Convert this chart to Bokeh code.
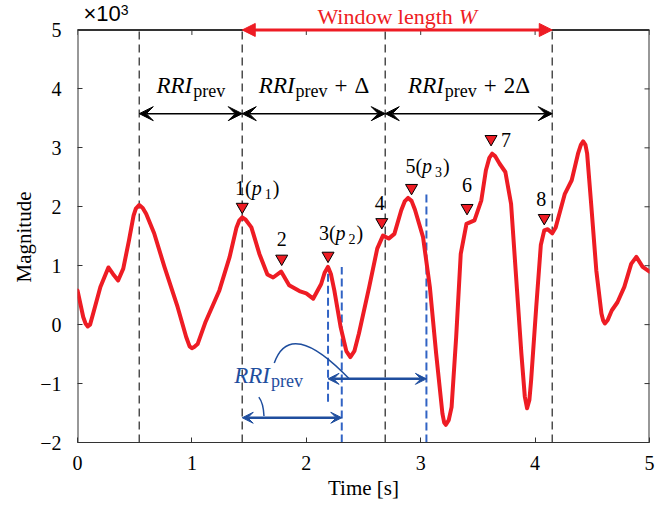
import numpy as np
from bokeh.plotting import figure
from bokeh.models import Label, Arrow, VeeHead, NormalHead, FixedTicker, Title
from bokeh.embed import file_html
from bokeh.resources import INLINE

# ---------------- data (magnitude in units of 10^3) ----------------
time_s = [0.00, 0.05, 0.07, 0.09, 0.11, 0.14, 0.20, 0.27, 0.31, 0.355, 0.40, 0.45, 0.49,
          0.51, 0.54, 0.57, 0.60, 0.67, 0.76, 0.875, 0.95, 0.98, 1.00, 1.02, 1.05, 1.12,
          1.24, 1.33, 1.39, 1.415, 1.44, 1.47, 1.52, 1.59, 1.66, 1.71, 1.78, 1.85, 1.94,
          2.00, 2.06, 2.13, 2.16, 2.19, 2.215, 2.245, 2.30, 2.35, 2.385, 2.42, 2.46, 2.55,
          2.62, 2.67, 2.72, 2.77, 2.83, 2.86, 2.89, 2.92, 2.95, 3.02, 3.08, 3.135, 3.19,
          3.205, 3.22, 3.245, 3.27, 3.31, 3.35, 3.40, 3.47, 3.53, 3.57, 3.60, 3.625, 3.65,
          3.69, 3.74, 3.79, 3.83, 3.88, 3.91, 3.93, 3.95, 3.965, 4.01, 4.05, 4.08, 4.11,
          4.15, 4.18, 4.26, 4.32, 4.375, 4.40, 4.42, 4.44, 4.455, 4.49, 4.535, 4.58, 4.595,
          4.61, 4.635, 4.67, 4.72, 4.78, 4.84, 4.885, 4.94, 5.00]
magnitude = [0.58, 0.13, 0.02, -0.03, 0.00, 0.21, 0.64, 0.97, 0.86, 0.75, 0.95, 1.43, 1.85,
             1.97, 2.03, 1.98, 1.88, 1.55, 0.98, 0.30, -0.21, -0.37, -0.40, -0.38, -0.33, 0.05,
             0.58, 1.15, 1.65, 1.77, 1.82, 1.78, 1.65, 1.20, 0.85, 0.80, 0.90, 0.67, 0.57,
             0.53, 0.44, 0.69, 0.88, 0.98, 0.86, 0.58, -0.04, -0.45, -0.55, -0.45, -0.15, 0.64,
             1.29, 1.51, 1.46, 1.54, 1.94, 2.09, 2.15, 2.10, 1.95, 1.49, 0.64, -0.49, -1.51,
             -1.66, -1.70, -1.62, -1.40, -0.21, 1.20, 1.71, 1.77, 2.11, 2.62, 2.83, 2.90, 2.86,
             2.73, 2.59, 2.05, 0.92, -0.49, -1.22, -1.42, -1.28, -0.95, 0.30, 1.35, 1.60, 1.62,
             1.55, 1.65, 2.22, 2.45, 2.90, 3.05, 3.11, 3.05, 2.90, 2.05, 0.92, 0.19, 0.07,
             0.02, 0.08, 0.24, 0.38, 0.64, 1.03, 1.15, 0.98, 0.90]

# detected peak markers
peak_t = [1.44, 1.785, 2.19, 2.66, 2.92, 3.405, 3.615, 4.08]
peak_marker_v = [2.00, 1.12, 1.17, 1.74, 2.32, 1.98, 3.15, 1.81]
peak_num = ["1", "2", "3", "4", "5", "6", "7", "8"]
peak_sub = ["1", "", "2", "", "3", "", "", ""]

# window boundaries (s) and interval labels
bounds_t = [0.54, 1.44, 2.69, 4.15]
interval_suffix = ["", "Δ", "2Δ"]
arrow_level = 3.58

# blue RRI_prev construction
blue_dash_x = [2.19, 2.31, 3.05]
blue_dash_top = [0.98, 0.98, 2.22]
blue_dash_bottom = [-1.31, -2.0, -2.0]
blue_arrow_x0 = [1.44, 2.19]
blue_arrow_x1 = [2.31, 3.05]
blue_arrow_y = [-1.58, -0.92]

x_ticks = [0, 1, 2, 3, 4, 5]
y_ticks = [-2, -1, 0, 1, 2, 3, 4, 5]
X_MIN, X_MAX, Y_MIN, Y_MAX = 0, 5, -2, 5

# ---------------- styles ----------------
FONT = "Liberation Serif"
RED = "#ee1c24"
BLUE = "#1f4e9e"
BLUE_DASH = "#3163c4"
GRAY = "#4d4d4d"
AXC = "#333333"

W, H = 665, 506
BORDER_BOTTOM = 64
Y_TOP = Y_MAX + 0.5   # frame reaches a half unit above the box so texts there show
PX_PER_Y = (H - BORDER_BOTTOM) / (Y_TOP - Y_MIN)

p = figure(width=W, height=H, x_range=(X_MIN, X_MAX), y_range=(Y_MIN, Y_TOP),
           output_backend="svg", toolbar_location=None,
           min_border_left=77, min_border_right=16, min_border_top=0,
           min_border_bottom=BORDER_BOTTOM)
p.grid.visible = False
p.outline_line_color = None
p.background_fill_color = "white"
p.border_fill_color = "white"

for ax in (p.xaxis[0], p.yaxis[0]):
    ax.major_tick_in = 5
    ax.major_tick_out = 0
    ax.minor_tick_line_color = None
    ax.major_tick_line_color = AXC
    ax.major_label_text_font = FONT
    ax.major_label_text_font_size = "20px"
    ax.major_label_text_color = "black"
    ax.axis_label_text_font = FONT
    ax.axis_label_text_font_size = "21px"
    ax.axis_label_text_font_style = "normal"
    ax.axis_label_text_color = "black"

p.xaxis.axis_line_color = AXC
p.yaxis.axis_line_color = None
p.xaxis.ticker = FixedTicker(ticks=x_ticks)
p.yaxis.ticker = FixedTicker(ticks=y_ticks)
p.xaxis.axis_label = "Time [s]"
p.xaxis.major_label_standoff = 13
p.xaxis.axis_label_standoff = 3
p.yaxis.major_label_standoff = 16

p.add_layout(Title(text="Magnitude", align="left", offset=160, standoff=3,
                   text_font=FONT, text_font_size="21px", text_font_style="normal",
                   text_color="black"), "left")

# box edges (left, top, right) and inward ticks on top/right
p.segment(x0=[X_MIN, X_MIN, X_MAX], y0=[Y_MIN, Y_MAX, Y_MIN],
          x1=[X_MIN, X_MAX, X_MAX], y1=[Y_MAX, Y_MAX, Y_MAX],
          line_color=AXC, line_width=2)
tick_len = 5 / PX_PER_Y
p.segment(x0=x_ticks, y0=[Y_MAX] * len(x_ticks), x1=x_ticks,
          y1=[Y_MAX - tick_len] * len(x_ticks), line_color=AXC, line_width=1)
p.scatter(x=[X_MAX] * len(y_ticks), y=y_ticks, marker="dash", size=10,
          line_color=AXC, line_width=1)

# ---------------- rich text helper ----------------
W_UP = {'0': .5, '1': .5, '2': .5, '3': .5, '4': .5, '5': .5, '6': .5, '7': .5, '8': .5,
        '9': .5, '(': .333, ')': .333, ' ': .25, '+': .564, 'Δ': .612, 'p': .5, 'r': .333,
        'e': .444, 'v': .5, '×': .584, 'W': .944, 'i': .278, 'n': .5, 'd': .5, 'o': .5,
        'w': .722, 'l': .278, 'g': .5, 't': .278, 'h': .5}
W_IT = {'R': .611, 'I': .333, 'p': .5, 'W': .833}
W_SANS = {'×': .584, '1': .556, '0': .556, '3': .556}


def seg_width(txt, size, italic, font=FONT):
    if font == "Liberation Sans":
        return sum(W_SANS.get(c, .556) for c in txt) * size
    tab = W_IT if italic else W_UP
    return sum(tab.get(c, W_UP.get(c, .5)) for c in txt) * size


def rich(x, y, segs, color="black", align="center", dx=0, dy=0, font=FONT):
    # segs: (text, size_px, italic, baseline_shift_px, gap_before_px)
    widths = [g + seg_width(t, s, it, font) for (t, s, it, sh, g) in segs]
    total = sum(widths)
    pos = -total / 2 if align == "center" else 0
    for (t, s, it, sh, g), w in zip(segs, widths):
        fix = 0.33 * s   # keep the glyph baseline at the requested height
        p.add_layout(Label(x=x, y=y, x_offset=dx + pos + g, y_offset=dy + sh + fix, text=t,
                           text_font=font, text_font_size=f"{s}px",
                           text_font_style="italic" if it else "normal",
                           text_color=color, text_align="left", text_baseline="alphabetic"))
        pos += w


# ---------------- black dashed boundaries ----------------
p.segment(x0=bounds_t, y0=[Y_MIN] * 4, x1=bounds_t, y1=[Y_MAX] * 4,
          line_color=GRAY, line_dash="8 5", line_width=1.5)

# blue dashed lines
p.segment(x0=blue_dash_x, y0=blue_dash_bottom, x1=blue_dash_x, y1=blue_dash_top,
          line_color=BLUE_DASH, line_dash="8 4", line_width=2)

# ---------------- signal ----------------
p.line(time_s, magnitude, line_color=RED, line_width=4, line_join="round", line_cap="round")

# peak markers
p.scatter(peak_t, peak_marker_v, marker="inverted_triangle", size=12,
          fill_color=RED, line_color="black", line_width=1)

label_dx = [15, 0, 13, -2, 16, 0, 10, -3]
label_dy = [12, 13, 16, 12, 15, 16, -8, 12]
for t, v, num, sub, ddx, ddy in zip(peak_t, peak_marker_v, peak_num, peak_sub, label_dx, label_dy):
    if sub:
        segs = [(num + "(", 20, False, 0, 0), ("p", 20, True, 0, 0),
                (sub, 14, False, -4, 3), (")", 20, False, 0, 1)]
    else:
        segs = [(num, 20, False, 0, 0)]
    rich(t, v, segs, align="left" if num == "7" else "center", dx=ddx, dy=ddy)

# ---------------- interval arrows ----------------
for i in range(3):
    x0, x1 = bounds_t[i], bounds_t[i + 1]
    p.add_layout(Arrow(x_start=x0, y_start=arrow_level, x_end=x1, y_end=arrow_level,
                       line_color="black", line_width=1.5,
                       start=VeeHead(size=14, fill_color="black", line_color="black"),
                       end=VeeHead(size=14, fill_color="black", line_color="black")))
    segs = [("RRI", 23, True, 0, 0), ("prev", 18, False, -4, 1)]
    if interval_suffix[i]:
        segs += [("+", 23, False, 0, 7), (interval_suffix[i], 23, False, 0, 7)]
    rich((x0 + x1) / 2, arrow_level, segs, dy=21)

# window length arrow (red)
p.add_layout(Arrow(x_start=bounds_t[1], y_start=Y_MAX, x_end=bounds_t[3], y_end=Y_MAX,
                   line_color=RED, line_width=3,
                   start=NormalHead(size=13, fill_color=RED, line_color=RED),
                   end=NormalHead(size=13, fill_color=RED, line_color=RED)))
rich((bounds_t[1] + bounds_t[3]) / 2, Y_MAX,
     [("Window length", 22, False, 0, 0), ("W", 22, True, 0, 5)], color=RED, dy=6)

# x10^3 multiplier
rich(X_MIN, Y_MAX, [("×10", 22, False, 0, 0), ("3", 14, False, 6, 0)], align="left",
     dx=6, dy=9, font="Liberation Sans")

# ---------------- blue RRI_prev construction ----------------
for x0, x1, yy in zip(blue_arrow_x0, blue_arrow_x1, blue_arrow_y):
    p.add_layout(Arrow(x_start=x0, y_start=yy, x_end=x1, y_end=yy,
                       line_color=BLUE, line_width=2.5,
                       start=VeeHead(size=11, fill_color=BLUE, line_color=BLUE),
                       end=VeeHead(size=11, fill_color=BLUE, line_color=BLUE)))

rich(1.67, -0.99, [("RRI", 23, True, 0, 0), ("prev", 18, False, -4, 1)], color=BLUE)

# connector curves
p.quadratic(x0=[1.72], y0=[-0.65], x1=[2.375], y1=[-0.92], cx=[1.86], cy=[0.12],
            line_color=BLUE, line_width=1.5)
p.quadratic(x0=[1.585], y0=[-1.23], x1=[1.63], y1=[-1.55], cx=[1.625], cy=[-1.33],
            line_color=BLUE, line_width=1.5)

open("out.html", "w").write(file_html(p, INLINE))
